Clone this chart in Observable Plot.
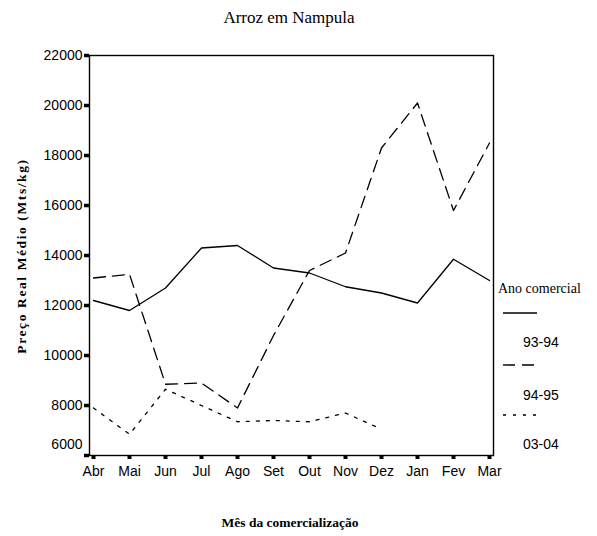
<!DOCTYPE html>
<html><head><meta charset="utf-8">
<script src="https://cdn.jsdelivr.net/npm/d3@7"></script>
<script src="https://cdn.jsdelivr.net/npm/@observablehq/plot@0.6"></script>
<style>
body{margin:0;background:#fff;}
#wrap{position:relative;width:597px;height:536px;overflow:hidden;}
#wrap svg.plot{position:absolute;left:0;top:0;}
.t{position:absolute;white-space:nowrap;color:#000;}
#title{left:289px;top:18px;transform:translate(-50%,-50%);font:17px "Liberation Serif",serif;}
#xlab{left:290px;top:523px;transform:translate(-50%,-50%);font:bold 13.5px "Liberation Serif",serif;}
#ylab{left:22px;top:256px;transform:translate(-50%,-50%) rotate(-90deg);font:bold 13.5px "Liberation Serif",serif;letter-spacing:1.6px;}
#legtitle{left:498px;top:289px;transform:translateY(-50%);font:14px "Liberation Serif",serif;}
.leglab{font:14px "Liberation Sans",sans-serif;transform:translateY(-50%);}
</style></head><body>
<div id="wrap">
  <div class="t" id="title">Arroz em Nampula</div>
  <div class="t" id="xlab">Mês da comercialização</div>
  <div class="t" id="ylab">Preço Real Médio (Mts/kg)</div>
  <div class="t" id="legtitle">Ano comercial</div>
</div>
<script>
const months = ["Abr","Mai","Jun","Jul","Ago","Set","Out","Nov","Dez","Jan","Fev","Mar"];
const seriesNames = ["93-94","94-95","03-04"];
const v9394 = [12200,11800,12700,14300,14400,13500,13300,12750,12500,12100,13850,13000];
const v9495 = [13100,13250,8850,8900,7900,10800,13400,14100,18300,20100,15800,18500];
const v0304 = [7900,6850,8650,8000,7350,7400,7350,7700,7050];
const yTicks = [6000,8000,10000,12000,14000,16000,18000,20000,22000];
const dashes = [null,"12,7","3,7"];

const seriesValues = [v9394, v9495, v0304];
const data = [];
seriesValues.forEach((vals, si) => vals.forEach((v, i) => data.push({serie: seriesNames[si], month: months[i], value: v})));

const W = 597, H = 536;
const plot = Plot.plot({
  width: W, height: H,
  marginLeft: 89, marginRight: 104, marginTop: 55, marginBottom: 81,
  style: {fontFamily: "Liberation Sans, sans-serif", fontSize: "14px", color: "#000", background: "#fff"},
  x: {type: "point", domain: months, padding: 0},
  y: {domain: [6000, 22000]},
  marks: [
    ...seriesNames.map((s, si) => Plot.line(data.filter(d => d.serie === s), {
      x: "month", y: "value", stroke: "#000", strokeWidth: 1.3,
      strokeDasharray: dashes[si] ?? undefined
    })),
    Plot.frame({stroke: "#000", strokeWidth: 1.4}),
    Plot.axisX(months, {tickSize: 4, strokeWidth: 4, tickPadding: 7, fontSize: 14, label: null}),
    Plot.axisY(yTicks, {tickSize: 5, strokeWidth: 3.5, tickFormat: () => "", label: null}),
    Plot.axisY(yTicks.filter(t => t > 6000), {tickSize: 0, tickPadding: 7, fontSize: 14, tickFormat: d => String(d), label: null}),
    Plot.axisY([6000], {tickSize: 0, tickPadding: 7, dy: -11, fontSize: 14, tickFormat: d => String(d), label: null})
  ]
});
const wrap = document.getElementById("wrap");
wrap.insertBefore(plot, wrap.firstChild);

// legend
const legY = [313, 365, 415];
const labY = [342, 395, 444];
const ns = "http://www.w3.org/2000/svg";
const lsvg = document.createElementNS(ns, "svg");
lsvg.setAttribute("width", 597); lsvg.setAttribute("height", 536);
lsvg.style.position = "absolute"; lsvg.style.left = "0"; lsvg.style.top = "0";
seriesNames.forEach((s, i) => {
  const ln = document.createElementNS(ns, "line");
  ln.setAttribute("x1", 503); ln.setAttribute("x2", 537);
  ln.setAttribute("y1", legY[i]); ln.setAttribute("y2", legY[i]);
  ln.setAttribute("stroke", "#000"); ln.setAttribute("stroke-width", 1.4);
  if (dashes[i]) ln.setAttribute("stroke-dasharray", dashes[i]);
  lsvg.appendChild(ln);
  const t = document.createElement("div");
  t.className = "t leglab"; t.textContent = s;
  t.style.left = "523px"; t.style.top = labY[i] + "px";
  wrap.appendChild(t);
});
wrap.appendChild(lsvg);
</script>
</body></html>
